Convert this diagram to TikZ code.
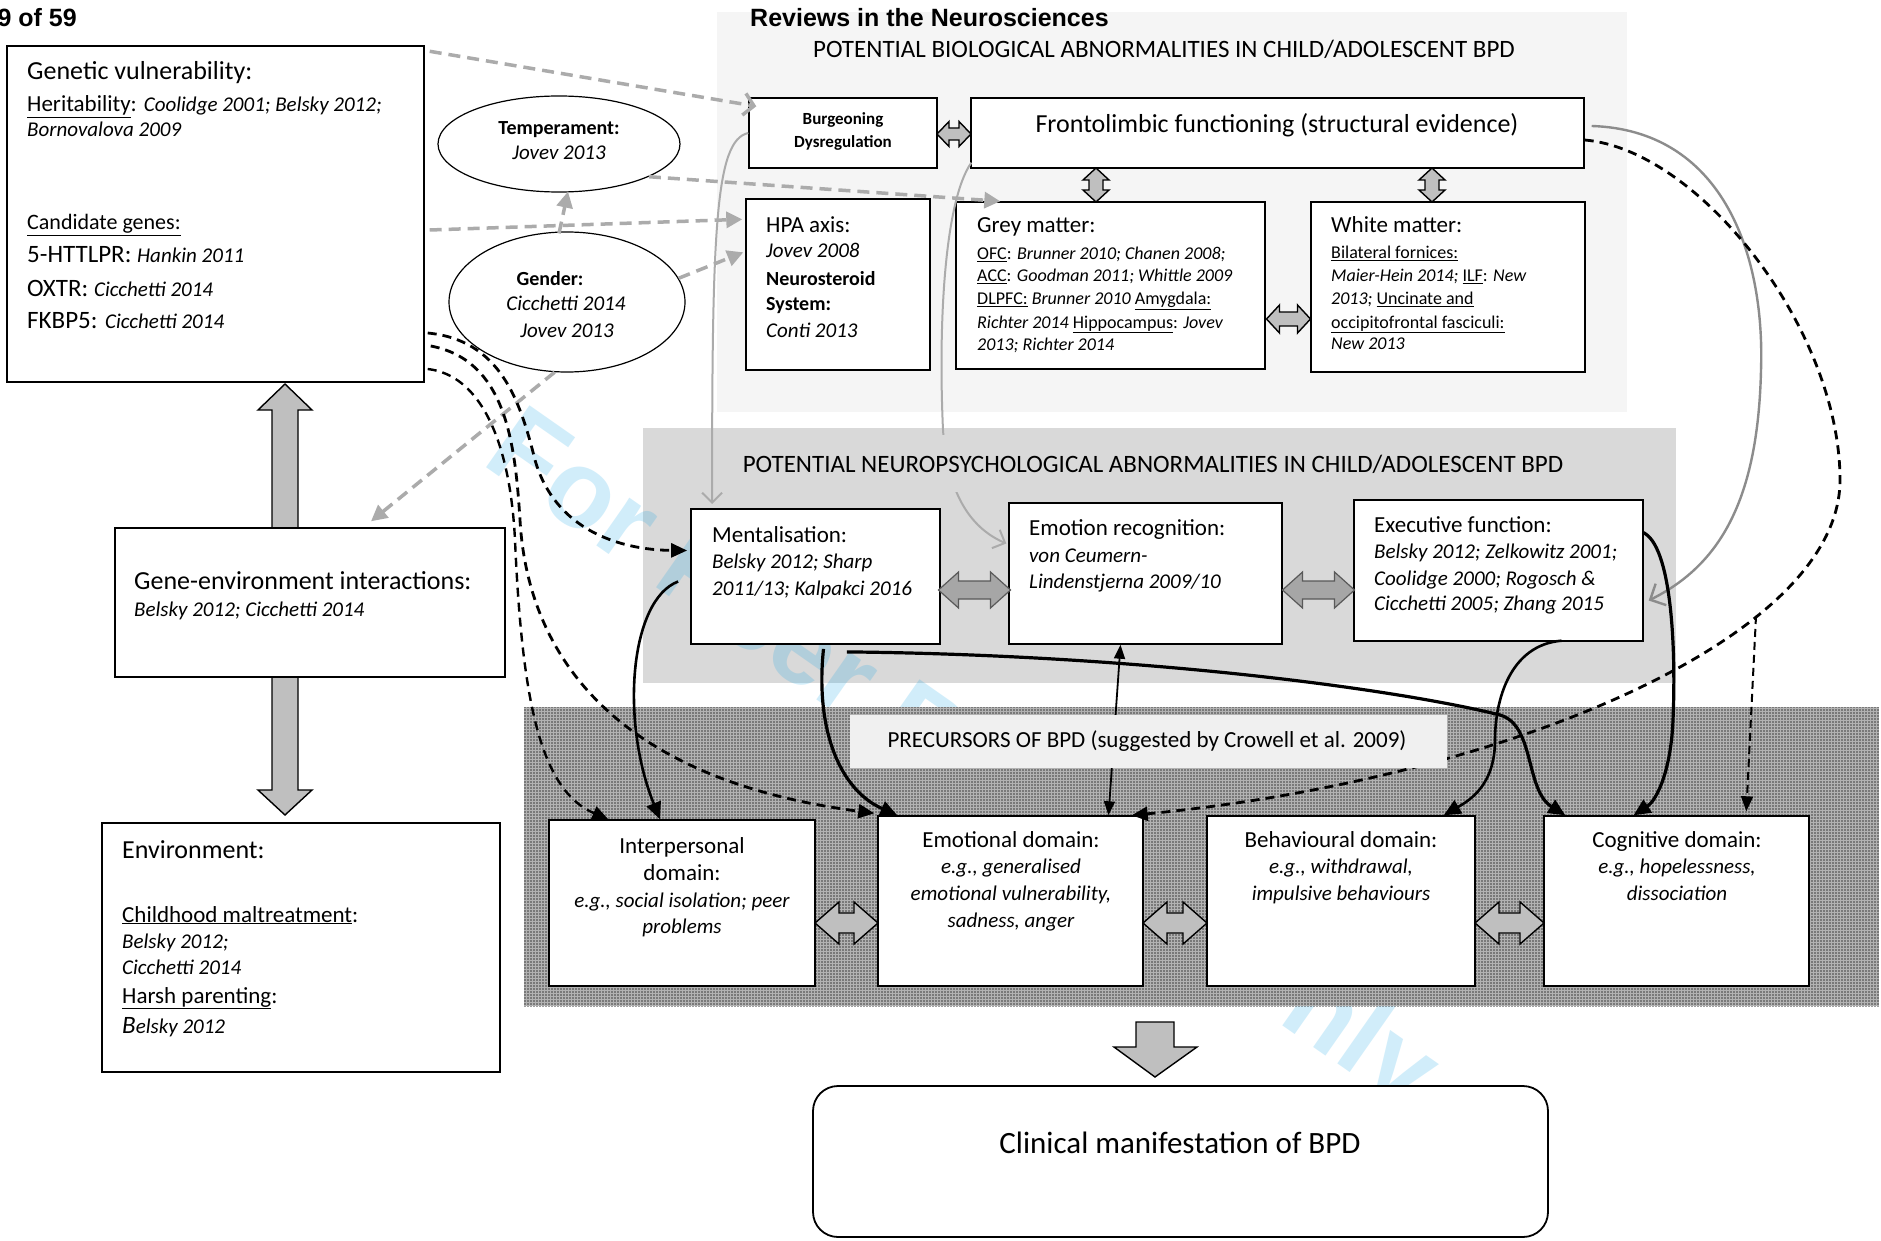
\documentclass[tikz,border=0pt]{standalone}
\usepackage{fontspec}
\setmainfont{Carlito}
\newfontfamily\arialf{Liberation Sans}
\usetikzlibrary{arrows.meta,shapes.geometric,calc,fit,patterns.meta}
\definecolor{wmc}{RGB}{0,160,230}
\newcommand\fsz[1]{\fontsize{#1}{#1}\selectfont}
\newcommand\un[1]{\underline{#1}}
\newcounter{tn}
\newcommand\tlx[2]{\stepcounter{tn}\node[anchor=base west,inner sep=0pt] (tl\arabic{tn}) at (#1) {#2};}
\newcommand\tcx[2]{\stepcounter{tn}\node[anchor=base,inner sep=0pt] (tc\arabic{tn}) at (#1) {#2};}
\newcommand\bx[4][]{\node[bxs,fit={(#3) (#4)},#1] (#2) {};}
\newcommand\dblh[7][barrow]{%
 \draw[#1] ({#2-#4},#3) -- ({#2-#4+#7},{#3-#6}) -- ({#2-#4+#7},{#3-#5}) -- ({#2+#4-#7},{#3-#5}) -- ({#2+#4-#7},{#3-#6}) -- ({#2+#4},#3) -- ({#2+#4-#7},{#3+#6}) -- ({#2+#4-#7},{#3+#5}) -- ({#2-#4+#7},{#3+#5}) -- ({#2-#4+#7},{#3+#6}) -- cycle;}
\newcommand\dblv[7][barrow]{%
 \draw[#1] (#2,{#3-#4}) -- ({#2-#6},{#3-#4+#7}) -- ({#2-#5},{#3-#4+#7}) -- ({#2-#5},{#3+#4-#7}) -- ({#2-#6},{#3+#4-#7}) -- (#2,{#3+#4}) -- ({#2+#6},{#3+#4-#7}) -- ({#2+#5},{#3+#4-#7}) -- ({#2+#5},{#3-#4+#7}) -- ({#2+#6},{#3-#4+#7}) -- cycle;}
\begin{document}
\begin{tikzpicture}[x=1pt,y=-1pt,
  bxs/.style={draw=black,line width=1.4pt,fill=white,inner sep=0pt},
  barrow/.style={draw=black,fill=black!25,line width=1.4pt,line join=miter},
  narrow/.style={draw=black!65,fill=black!35,line width=1.2pt,line join=miter},
  gdash/.style={draw=black!33,line width=3.5pt,dash pattern=on 12pt off 7pt,-{Triangle[length=16pt,width=16pt]}},
  gdashopen/.style={draw=black!33,line width=3.5pt,dash pattern=on 12pt off 7pt,-{Straight Barb[length=10pt,width=22pt]}},
  gsolid/.style={draw=black!33,line width=2pt,-{Straight Barb[length=10pt,width=20pt]}},
  gsolidb/.style={draw=black!45,line width=2.4pt,-{Straight Barb[length=12pt,width=24pt]}},
  bdash/.style={draw=black,line width=2.8pt,dash pattern=on 9pt off 6pt,-{Triangle[length=16pt,width=14pt]}},
  bdashb/.style={draw=black,line width=2pt,dash pattern=on 8pt off 5pt,-{Triangle[length=15pt,width=12pt]}},
  bsolid/.style={draw=black,line width=3.2pt,-{Triangle[length=17pt,width=15pt]}}]
\useasboundingbox (0,0) rectangle (1881,1241);
\fill[white] (0,0) rectangle (1881,1241);

% panels
\node[fit={(717,12) (1627,412)},inner sep=0pt,fill=black!4] (bio) {};
\node[fit={(643,428) (1676,683)},inner sep=0pt,fill=black!15] (neuro) {};

% watermark
\node[rotate=-35,inner sep=0pt,text=wmc,text opacity=0.18] (wm) at (960,765) {\arialf\bfseries\fsz{110}For Peer Review Only};

\node[fit={(524,707) (1879,1006)},inner sep=0pt,fill=black!30,
  postaction={pattern={Dots[radius=0.8pt,distance=3pt]},pattern color=black!75}] (prec) {};

% big block arrows (left column and to clinical box)
\draw[barrow] (272,528) -- (272,410) -- (258,410) -- (285,384) -- (312,410) -- (298,410) -- (298,528) -- cycle;
\draw[barrow] (272,677) -- (272,790) -- (258,790) -- (285,815) -- (312,790) -- (298,790) -- (298,677) -- cycle;
\draw[barrow] (1136,1022) -- (1174,1022) -- (1174,1047) -- (1197,1047) -- (1155,1077) -- (1114,1047) -- (1136,1047) -- cycle;

% boxes
\bx{gen}{7,46}{424,382}
\node[bxs,ellipse,line width=1.2pt,minimum width=242pt,minimum height=96pt] (temp) at (559,144) {};
\node[bxs,ellipse,line width=1.2pt,minimum width=236pt,minimum height=140pt] (gend) at (567,302) {};
\bx{burg}{749,98}{937,168}
\bx{front}{971,98}{1584,168}
\bx{hpa}{746,199}{930,370}
\bx{grey}{956,202}{1265,369}
\bx{white}{1311,202}{1585,372}
\bx[line width=1.8pt]{ment}{691,509}{940,644}
\bx{emor}{1009,503}{1282,644}
\bx{exec}{1354,500}{1643,641}
\bx{inter}{549,820}{815,986}
\bx{emod}{878,816}{1143,986}
\bx{behav}{1207,816}{1475,986}
\bx{cogn}{1544,816}{1809,986}
\bx{gxe}{115,528}{505,677}
\bx{env}{102,823}{500,1072}
\bx[rounded corners=25pt,line width=1.8pt]{clin}{813,1086}{1548,1237}

% double block arrows
\dblh{954}{134}{17}{6}{12.5}{12}
\dblv{1096}{185}{17}{7}{13}{12}
\dblv{1432}{185}{17}{7}{13}{12}
\dblh{1288.5}{319}{22}{7}{14}{13}
\dblh[narrow]{974.5}{590}{36}{9}{18}{20}
\dblh[narrow]{1318.5}{590}{36}{9}{18}{20}
\dblh{846.5}{923}{31.5}{10}{21}{24}
\dblh{1175}{923}{32}{10}{21}{24}
\dblh{1509.5}{923}{34.5}{10}{21}{24}

% grey dashed connectors
\draw[gdashopen] ($(gen.north east)+(5,6)$) -- ($(burg.north west)+(8,9)$);
\draw[gdash] (temp.-20) -- ($(grey.north west)+(45,0)$);
\draw[gdash] ($(gen.east)+(5,16)$) -- ($(hpa.north west)+(-3,21)$);
\draw[gdash] ($(gend.north)+(-8,2)$) -- ($(temp.south)+(9,-1)$);
\draw[gdash] (gend.12) -- ($(hpa.north west)+(-2,54)$);
\draw[gdash] (gend.-100) -- ($(gxe.north)+(61,-6)$);

% grey solid connectors
\draw[gsolid] (burg.west) .. controls (715,140) and (712,230) .. ($(ment.north west)+(22,-4)$);
\draw[gsolid] ($(front.south west)+(1,-6)$) .. controls (945,200) and (938,320) .. (943,430) .. controls (948,500) and (975,530) .. ($(emor.west)+(-2,-30)$);
\draw[gsolidb] ($(front.east)+(7,-7)$) .. controls (1720,130) and (1765,250) .. (1761,370) .. controls (1758,500) and (1720,565) .. ($(exec.east)+(5,30)$);

% black dashed connectors
\draw[bdash] ($(front.east)+(0,7)$) .. controls (1700,150) and (1840,330) .. (1840,480) .. controls (1840,640) and (1500,780) .. ($(emod.north east)+(-12,0)$);
\coordinate (br) at (1756,616);
\draw[bdashb] (br) -- ($(cogn.north west)+(203,-4)$);
\draw[bdash] ($(gen.east)+(3,119)$) .. controls (500,340) and (520,400) .. (535,460) .. controls (555,530) and (620,550) .. ($(ment.west)+(-3,-26)$);
\draw[bdash] ($(gen.east)+(6,132)$) .. controls (505,360) and (515,440) .. (520,520) .. controls (528,660) and (620,780) .. ($(emod.north west)+(-3,-2)$);
\draw[bdash,line width=2.4pt] ($(gen.east)+(3,155)$) .. controls (480,375) and (510,440) .. (515,540) .. controls (522,700) and (540,790) .. ($(inter.north west)+(60,0)$);

% black solid connectors
\draw[bsolid,line width=2.6pt] ($(ment.west)+(-12,5)$) .. controls (630,600) and (620,720) .. ($(inter.north)+(-22,0)$);
\draw[bsolid] ($(ment.south)+(8,4)$) .. controls (815,730) and (840,790) .. ($(emod.north west)+(20,0)$);
\draw[bsolid] ($(ment.south east)+(-94,7)$) .. controls (1150,655) and (1400,690) .. (1500,715) .. controls (1535,725) and (1525,790) .. ($(cogn.north west)+(22,0)$);
\draw[bsolid,line width=2.6pt] ($(exec.south)+(63,-1)$) .. controls (1510,645) and (1495,700) .. (1495,740) .. controls (1495,785) and (1470,800) .. ($(behav.north east)+(-32,0)$);
\draw[bsolid] ($(exec.north east)+(-1,33)$) .. controls (1672,545) and (1676,650) .. (1673,720) .. controls (1671,770) and (1657,800) .. ($(cogn.north)+(-43,0)$);
\draw[line width=1.8pt,{Triangle[length=14pt,width=11pt]}-{Triangle[length=14pt,width=11pt]}] ($(emod.north)+(98,0)$) -- ($(emor.south)+(-25,0)$);

% titles
\node[anchor=base west,inner sep=0pt] (hdr) at (750,27) {\arialf\bfseries\fsz{25}Reviews in the Neurosciences};
\node[anchor=base east,inner sep=0pt] (pg) at (77,27) {\arialf\bfseries\fsz{25}9 of 59};
\node[anchor=base,inner sep=0pt] (biot) at (1164,58) {\fsz{25}POTENTIAL BIOLOGICAL ABNORMALITIES IN CHILD/ADOLESCENT BPD};
\node[fit={(725,435) (1585,492)},inner sep=0pt,fill=black!15] (neubg) {};
\node[anchor=base,inner sep=0pt] (neut) at (1153,472) {\fsz{25}POTENTIAL NEUROPSYCHOLOGICAL ABNORMALITIES IN CHILD/ADOLESCENT BPD};
\node[fit={(850,715) (1447,768)},inner sep=0pt,fill=black!6] (precl) {};
\tcx{1147,747}{\fsz{23}PRECURSORS OF BPD (suggested by Crowell et al. 2009)}

% genetic vulnerability
\tlx{27,80}{\fsz{26}Genetic vulnerability:}
\tlx{27,112}{\fsz{23}\un{Heritability}: \fsz{21}\itshape Coolidge 2001; Belsky 2012;}
\tlx{27,137}{\fsz{21}\itshape Bornovalova 2009}
\tlx{27,230}{\fsz{22}\un{Candidate genes:}}
\tlx{27,263}{\fsz{25}5-HTTLPR: \fsz{21}\itshape Hankin 2011}
\tlx{27,296}{\fsz{25}OXTR: \fsz{21}\itshape Cicchetti 2014}
\tlx{27,328}{\fsz{25}FKBP5: \fsz{21}\itshape Cicchetti 2014}

% ellipses
\tcx{559,135}{\fsz{20}\bfseries Temperament:}
\tcx{559,160}{\fsz{21}\itshape Jovev 2013}
\tcx{550,285}{\fsz{20}\bfseries Gender:}
\tcx{566,310}{\fsz{21}\itshape Cicchetti 2014}
\tcx{567,337}{\fsz{21}\itshape Jovev 2013}

% biological
\tcx{843,125}{\fsz{17}\bfseries Burgeoning}
\tcx{843,148}{\fsz{17}\bfseries Dysregulation}
\tcx{1277,133}{\fsz{26}Frontolimbic functioning (structural evidence)}
\tlx{766,233}{\fsz{23}HPA axis:}
\tlx{766,258}{\fsz{21}\itshape Jovev 2008}
\tlx{766,285}{\fsz{20}\bfseries Neurosteroid}
\tlx{766,310}{\fsz{20}\bfseries System:}
\tlx{766,337}{\fsz{21}\itshape Conti 2013}
\tlx{977,233}{\fsz{23}Grey matter:}
\tlx{977,260}{\fsz{18}\un{OFC}: \itshape Brunner 2010; Chanen 2008;}
\tlx{977,282}{\fsz{18}\un{ACC}: \itshape Goodman 2011; Whittle 2009}
\tlx{977,305}{\fsz{18}\un{DLPFC:} {\itshape Brunner 2010} \un{Amygdala:}}
\tlx{977,328}{\fsz{18}{\itshape Richter 2014} \un{Hippocampus}: \itshape Jovev}
\tlx{977,350}{\fsz{18}\itshape 2013; Richter 2014}
\tlx{1331,233}{\fsz{23}White matter:}
\tlx{1331,259}{\fsz{18}\un{Bilateral fornices:}}
\tlx{1331,282}{\fsz{18}{\itshape Maier-Hein 2014;} \un{ILF}: \itshape New}
\tlx{1331,305}{\fsz{18}{\itshape 2013;} \un{Uncinate and}}
\tlx{1331,328}{\fsz{18}\un{occipitofrontal fasciculi:}}
\tlx{1331,349}{\fsz{18}\itshape New 2013}

% neuropsychological
\tlx{712,542}{\fsz{23}Mentalisation:}
\tlx{712,568}{\fsz{21}\itshape Belsky 2012; Sharp}
\tlx{712,595}{\fsz{21}\itshape 2011/13; Kalpakci 2016}
\tlx{1029,535}{\fsz{23}Emotion recognition:}
\tlx{1029,562}{\fsz{21}\itshape von Ceumern-}
\tlx{1029,588}{\fsz{21}\itshape Lindenstjerna 2009/10}
\tlx{1374,532}{\fsz{23}Executive function:}
\tlx{1374,558}{\fsz{21}\itshape Belsky 2012; Zelkowitz 2001;}
\tlx{1374,585}{\fsz{21}\itshape Coolidge 2000; Rogosch \&}
\tlx{1374,610}{\fsz{21}\itshape Cicchetti 2005; Zhang 2015}

% precursors
\tcx{682,853}{\fsz{23}Interpersonal}
\tcx{682,880}{\fsz{23}domain:}
\tcx{682,907}{\fsz{21}\itshape e.g., social isolation; peer}
\tcx{682,933}{\fsz{21}\itshape problems}
\tcx{1011,847}{\fsz{23}Emotional domain:}
\tcx{1011,873}{\fsz{21}\itshape e.g., generalised}
\tcx{1011,900}{\fsz{21}\itshape emotional vulnerability,}
\tcx{1011,927}{\fsz{21}\itshape sadness, anger}
\tcx{1341,847}{\fsz{23}Behavioural domain:}
\tcx{1341,873}{\fsz{21}\itshape e.g., withdrawal,}
\tcx{1341,900}{\fsz{21}\itshape impulsive behaviours}
\tcx{1677,847}{\fsz{23}Cognitive domain:}
\tcx{1677,873}{\fsz{21}\itshape e.g., hopelessness,}
\tcx{1677,900}{\fsz{21}\itshape dissociation}

% left column
\tlx{134,589}{\fsz{26}Gene-environment interactions:}
\tlx{134,616}{\fsz{21}\itshape Belsky 2012; Cicchetti 2014}
\tlx{122,858}{\fsz{26}Environment:}
\tlx{122,922}{\fsz{23}\un{Childhood maltreatment}:}
\tlx{122,948}{\fsz{21}\itshape Belsky 2012;}
\tlx{122,974}{\fsz{21}\itshape Cicchetti 2014}
\tlx{122,1003}{\fsz{23}\un{Harsh parenting}:}
\tlx{122,1033}{\fsz{21}\itshape {\fsz{25}B}elsky 2012}

% clinical
\tcx{1180,1153}{\fsz{31}Clinical manifestation of BPD}
\end{tikzpicture}
\end{document}
